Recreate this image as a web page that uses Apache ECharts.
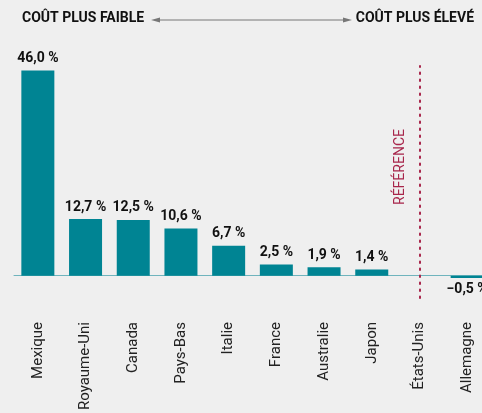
<!DOCTYPE html>
<html>
<head>
<meta charset="utf-8">
<script src="https://cdn.jsdelivr.net/npm/echarts@6/dist/echarts.min.js"></script>
<style>
  html, body { margin: 0; padding: 0; background: #efefef; }
  #chart { width: 482px; height: 413px; }
</style>
</head>
<body>
<div id="chart"></div>
<script>
// pays comparés, écart de coût par rapport aux États-Unis (%)
const pays = ['Mexique', 'Royaume-Uni', 'Canada', 'Pays-Bas', 'Italie', 'France', 'Australie', 'Japon', 'États-Unis', 'Allemagne'];
const ecarts = [46.0, 12.7, 12.5, 10.6, 6.7, 2.5, 1.9, 1.4, 0, -0.5];
const reference = 'États-Unis';

const police = 'Roboto, sans-serif';
const teal = '#008493';
const rouge = '#a8264b';

let myecharts = echarts.init(document.getElementById('chart'));

function fmt(v) {
  let s = Math.abs(v).toFixed(1).replace('.', ',');
  return (v < 0 ? '\u2212' : '') + s + ' %';
}

// les valeurs négatives ont leur étiquette sous la barre
let barData = ecarts.map(function (v) {
  return v < 0 ? { value: v, label: { position: 'bottom' } } : v;
});

myecharts.setOption({
  backgroundColor: '#efefef',
  animation: false,
  grid: {
    left: 14,
    right: -9,
    top: 66,
    bottom: 115,
    outerBoundsMode: 'none',
  },
  xAxis: {
    type: 'category',
    data: pays,
    axisLine: { onZero: true, lineStyle: { color: '#6fb4bd', width: 1 } },
    axisTick: { show: false },
    axisLabel: {
      rotate: 90,
      margin: 24,
      interval: 0,
      fontFamily: police,
      fontSize: 15,
      color: '#222',
    },
  },
  yAxis: {
    type: 'value',
    min: -5,
    max: 47,
    show: false,
    splitLine: { show: false },
  },
  series: [
    {
      type: 'bar',
      data: barData,
      barWidth: 33,
      itemStyle: { color: teal },
      label: {
        show: true,
        position: 'top',
        distance: 5,
        fontFamily: police,
        fontWeight: 'bold',
        fontSize: 14,
        color: '#111',
        formatter: function (p) {
          if (p.value === 0) return '';
          return fmt(p.value);
        },
      },
      markLine: {
        symbol: 'none',
        silent: true,
        label: { show: false },
        lineStyle: { color: rouge, type: [1.5, 5.5], width: 2, cap: 'round' },
        data: [{ xAxis: reference }],
      },
    },
  ],
  graphic: [
    {
      type: 'text',
      left: 22,
      top: 11,
      style: {
        text: 'COÛT PLUS FAIBLE',
        font: 'bold 14px ' + police,
        fill: '#111',
      },
    },
    {
      type: 'text',
      right: 8,
      top: 11,
      style: {
        text: 'COÛT PLUS ÉLEVÉ',
        font: 'bold 14px ' + police,
        fill: '#111',
      },
    },
    {
      type: 'line',
      shape: { x1: 158, y1: 20, x2: 345, y2: 20 },
      style: { stroke: '#777', lineWidth: 1 },
    },
    {
      type: 'polygon',
      shape: { points: [[151, 20], [160, 17.5], [160, 22.5]] },
      style: { fill: '#777' },
    },
    {
      type: 'polygon',
      shape: { points: [[352, 20], [343, 17.5], [343, 22.5]] },
      style: { fill: '#777' },
    },
    {
      type: 'text',
      x: 400,
      y: 167,
      rotation: Math.PI / 2,
      style: {
        text: 'RÉFÉRENCE',
        font: '14px ' + police,
        fill: rouge,
        align: 'center',
        verticalAlign: 'middle',
      },
    },
  ],
});
</script>
</body>
</html>
